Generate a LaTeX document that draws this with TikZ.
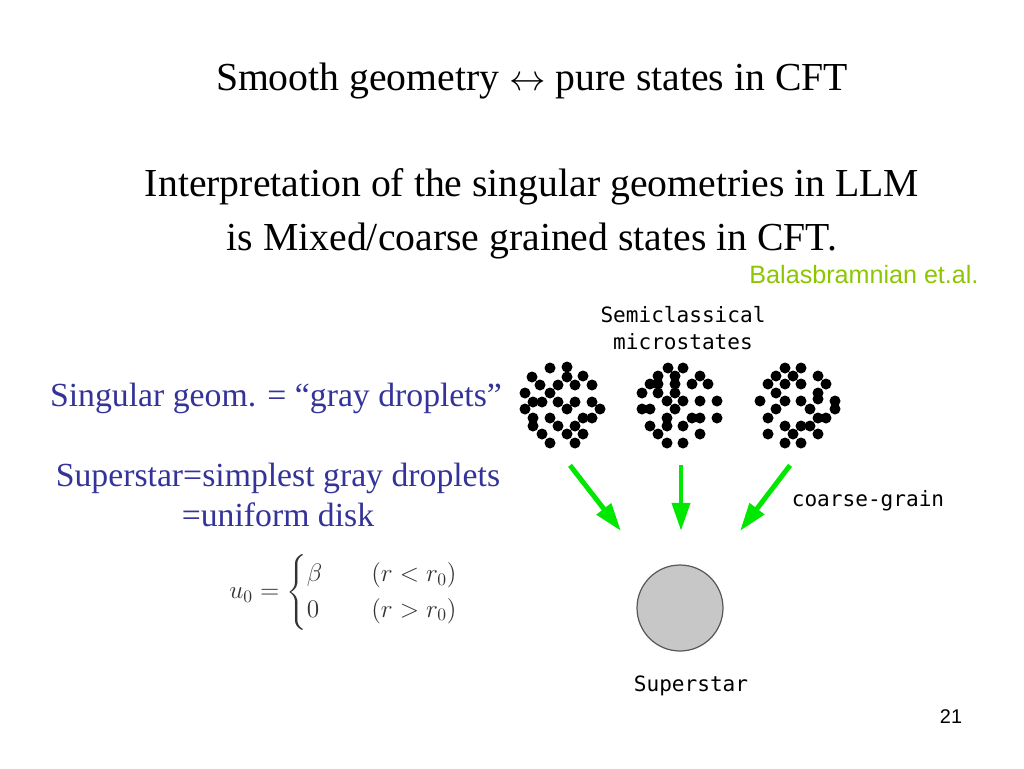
\documentclass[tikz,border=0pt]{standalone}
\usepackage{amsmath}
\usepackage{fontspec}
\setmainfont{Liberation Serif}
\setmonofont{DejaVu Sans Mono}
\newfontfamily\arialfont{Liberation Sans}
\usetikzlibrary{positioning, arrows.meta, calc}
\definecolor{slideblue}{RGB}{51,51,153}
\definecolor{refgreen}{RGB}{140,198,0}
\definecolor{arrgreen}{RGB}{0,232,0}
\tikzset{
  garr/.style={-{Triangle[length=16pt,width=10pt]}, line width=2.8pt, draw=arrgreen},
  cl/.style={circle, minimum size=1.72cm, inner sep=0pt},
  disk/.style={circle, draw=black!65, fill=black!22, line width=0.7pt, minimum size=1.72cm, inner sep=0pt},
  mono/.style={font=\fontsize{12}{15.4}\selectfont\ttfamily, align=center, inner sep=1pt},
  btxt/.style={font=\fontsize{19.2}{22.8}\selectfont, text=slideblue, align=center, inner sep=0pt}
}

\begin{document}
\begin{tikzpicture}[x=0.02cm, y=-0.02cm, font=\fontsize{22.6}{27}\selectfont]
\useasboundingbox (0,0) rectangle (1024,768);
\node (ttl) at (532,81) {Smooth geometry $\leftrightarrow$ pure states in CFT};
\node[align=center, font=\fontsize{22.6}{30.7}\selectfont] (intp) at (532,214)
  {Interpretation of the singular geometries in LLM\\is Mixed/coarse grained states in CFT.};
\node[font=\fontsize{14.3}{16}\selectfont\arialfont, text=refgreen] (ref) at (864,275) {Balasbramnian et.al.};
\node[btxt] (sing) at (276,398) {Singular geom. = “gray droplets”};
\node[btxt] (simp) at (278,495) {Superstar=simplest gray droplets\\=uniform disk};
\node[text=black!80, inner sep=0pt, font=\fontsize{14}{17}\selectfont] (uzero) at (344,592)
  {$u_0=\begin{cases}\beta & \quad(r<r_0)\\ 0 & \quad(r>r_0)\end{cases}$};
% droplet pictures
\node[cl] (m1) at (562,405) {};
\node[cl] (m2) at (680,405) {};
\node[cl] (m3) at (797,405) {};
\foreach \x/\y in {-12/-37, 5/-38, 5/-28, -30/-28, 21/-29, -22/-20, -4/-20, 13/-20, 30/-20,
  -37/-12, -12/-12, -29/-3, -20/-3, -4/-3, 13/-3, 30/-3, -37/4, 5/4, 38/4, -29/13, -12/13,
  21/13, 30/13, -29/21, -4/21, 13/21, -20/29, 5/29, 21/29, -12/38, 13/38}
  \fill ($(m1)+(\x,\y)$) circle (5.5);
\foreach \x/\y in {-12/-37, 3/-37, -22/-29, -5/-29, 20/-29, -30/-21, -22/-21, -5/-21, 12/-21,
  28/-21, -38/-12, -22/-12, -5/-12, -13/-4, 3/-4, 20/-4, 37/-4, -38/4, -30/4, -5/4, 12/13,
  20/13, -13/13, 37/13, -30/21, -13/21, 3/21, -22/29, 20/29, -13/38, 3/38}
  \fill ($(m2)+(\x,\y)$) circle (5.5);
\foreach \x/\y in {-12/-37, 4/-37, -21/-29, -4/-29, 21/-29, -29/-21, -12/-21, 4/-21, 29/-21,
  -21/-12, 21/-12, -37/-4, -12/-4, 4/-4, 21/-6, 38/-4, -21/4, 13/4, 38/4, -29/13, 21/13,
  29/13, -12/21, 4/21, 13/21, -29/29, -4/29, 21/29, -12/38, 4/38}
  \fill ($(m3)+(\x,\y)$) circle (5.5);
\node[mono] (semi) at (683,328) {Semiclassical\\microstates};
% coarse graining
\node[disk] (ss) at (680,608) {};
\node[mono] (sslab) at (691,686) {Superstar};
\coordinate (s1) at ($(m1.south)+(8,17)$);
\coordinate (s2) at ($(m2.south)+(1,17)$);
\coordinate (s3) at ($(m3.south)+(-7,17)$);
\coordinate (e1) at (621,531);
\coordinate (e2) at (681,531);
\coordinate (e3) at (740,531);
\draw[garr] (s1) -- (e1);
\draw[garr] (s2) -- (e2);
\draw[garr] (s3) -- (e3);
\node[mono] (cg) at (868,501) {coarse-grain};
\node[font=\fontsize{11.3}{13}\selectfont\arialfont] (pg) at (951,717) {21};
\end{tikzpicture}
\end{document}
